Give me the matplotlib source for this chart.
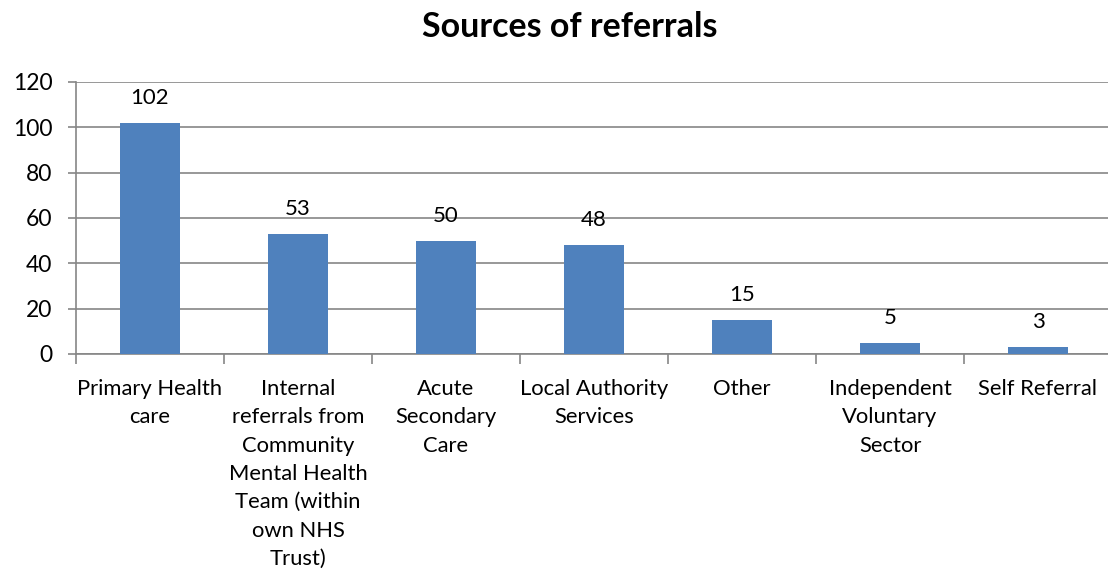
import matplotlib
matplotlib.use("Agg")
import matplotlib.pyplot as plt
import numpy as np

categories = ["Primary Health\ncare",
              "Internal\nreferrals from\nCommunity\nMental Health\nTeam (within\nown NHS\nTrust)",
              "Acute\nSecondary\nCare",
              "Local Authority\nServices",
              "Other",
              "Independent\nVoluntary\nSector",
              "Self Referral"]
values = [102, 53, 50, 48, 15, 5, 3]
yticks = [0, 20, 40, 60, 80, 100, 120]

plt.rcParams['font.family'] = ['Lato', 'DejaVu Sans']

W, H = 1108, 571
fig = plt.figure(figsize=(W/100, H/100), dpi=100)
left, right, top, bottom = 76, 1112, 82, 354
ax = fig.add_axes([left/W, 1 - bottom/H, (right-left)/W, (bottom-top)/H])

x = np.arange(len(values))
ax.bar(x, values, width=0.405, color='#4F81BD', zorder=3)
for xi, v in zip(x, values):
    ax.annotate(str(v), (xi, v), xytext=(0, 13.5), textcoords='offset points',
                ha='center', va='baseline', fontsize=16, color='black')

ax.set_xlim(-0.5, len(values) - 0.5)
ax.set_ylim(0, 120)
ax.set_yticks(yticks)
ax.set_yticklabels([str(t) for t in yticks], fontsize=16.5)
ax.yaxis.grid(True, color='#868686', linewidth=1.2, zorder=0)
ax.tick_params(axis='y', length=6, width=1.2, color='#868686', pad=11)

ax.set_xticks(x)
ax.set_xticklabels(categories, fontsize=15.8, linespacing=1.52, va='top')
ax.tick_params(axis='x', length=0, pad=18)
ax.set_xticks(np.arange(-0.5, len(values)), minor=True)
ax.tick_params(axis='x', which='minor', length=7, width=1.2, color='#868686')

for s in ['top', 'right']:
    ax.spines[s].set_visible(False)
for s in ['left', 'bottom']:
    ax.spines[s].set_color('#868686')
    ax.spines[s].set_linewidth(1.2)

fig.text(570/W, 1 - 27/H, "Sources of referrals", ha='center', va='center',
         fontsize=24.5, fontweight='bold')

fig.savefig("out.png", dpi=100)
